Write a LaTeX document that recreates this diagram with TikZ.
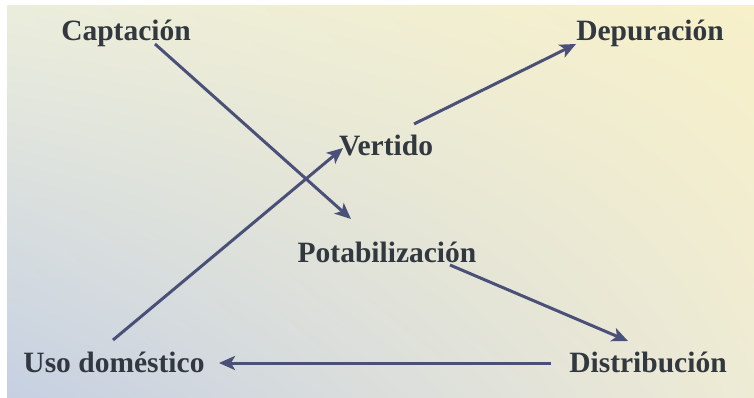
\documentclass[tikz,border=0pt]{standalone}
\usepackage{fontspec}
\setmainfont{Liberation Serif}
\usetikzlibrary{arrows.meta,shadings}
\definecolor{txt}{HTML}{32383F}
\definecolor{arr}{HTML}{4A5078}
\definecolor{cUL}{HTML}{EBEDDC}
\definecolor{cUR}{HTML}{F7F0C9}
\definecolor{cLL}{HTML}{C6D0E2}
\definecolor{cLR}{HTML}{EEEBD5}
\tikzset{
  lbl/.style={font=\fontsize{29.5}{33}\selectfont\bfseries, text=txt, inner sep=0pt},
  flow/.style={draw=arr, line width=3pt, -{Stealth[length=16pt,width=14pt,inset=4pt]}}
}
\begin{document}
\begin{tikzpicture}[x=1pt,y=1pt]
\useasboundingbox (0,0) rectangle (754,397);
\fill[white] (0,0) rectangle (754,397);
\shade[upper left=cUL, upper right=cUR, lower left=cLL, lower right=cLR] (7,0) rectangle (754,391);
\node[lbl] (cap) at (126,364) {Captación};
\node[lbl] (dep) at (650,364) {Depuración};
\node[lbl] (ver) at (386,252) {Vertido};
\node[lbl] (pot) at (387,145) {Potabilización};
\node[lbl] (uso) at (114,35) {Uso doméstico};
\node[lbl] (dis) at (648,35) {Distribución};
\coordinate (a1) at (155,353);
\coordinate (a2) at (351,178);
\coordinate (b1) at (113,57);
\coordinate (b2) at (343,249);
\coordinate (c1) at (414,273);
\coordinate (c2) at (576,353);
\coordinate (d1) at (450,132);
\coordinate (d2) at (628,56);
\coordinate (e1) at (551,34);
\coordinate (e2) at (219,34);
\draw[flow] (a1) -- (a2);
\draw[flow] (b1) -- (b2);
\draw[flow] (c1) -- (c2);
\draw[flow] (d1) -- (d2);
\draw[flow] (e1) -- (e2);
\end{tikzpicture}
\end{document}
